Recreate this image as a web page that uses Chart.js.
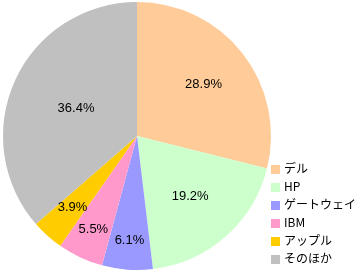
<!DOCTYPE html>
<html>
<head>
<meta charset="utf-8">
<script src="https://cdn.jsdelivr.net/npm/chart.js@4"></script>
<style>
  body { margin: 0; background: #fff; }
  #wrap { position: relative; width: 361px; height: 273px; }
  #legend { position: absolute; left: 271px; top: 159px; font: 12px "Noto Sans CJK JP", sans-serif; color: #000; }
  #legend div { height: 18px; line-height: 18px; white-space: nowrap; }
  #legend span { display: inline-block; width: 9px; height: 9px; margin-right: 4px; vertical-align: -1px; }
</style>
</head>
<body>
<div id="wrap">
  <canvas id="pie" width="361" height="273"></canvas>
  <div id="legend"></div>
</div>
<script>
// data
const labels = ['デル', 'HP', 'ゲートウェイ', 'IBM', 'アップル', 'そのほか'];
const shares = [28.9, 19.2, 6.1, 5.5, 3.9, 36.4];
const colors = ['#FFCC99', '#CCFFCC', '#9999FF', '#FF99CC', '#FFCC00', '#C0C0C0'];

// how far out each percentage sits (fraction of radius)
const labelRadius = [0.63, 0.6, 0.78, 0.77, 0.72, 0.5];

// draw percentage inside each slice
const sliceLabels = {
    id: 'sliceLabels',
    afterDatasetsDraw(chart) {
        const ctx = chart.ctx;
        const meta = chart.getDatasetMeta(0);
        ctx.save();
        ctx.font = '13px "Liberation Sans", Arial, sans-serif';
        ctx.fillStyle = '#000';
        ctx.textAlign = 'center';
        ctx.textBaseline = 'middle';
        meta.data.forEach((arc, i) => {
            const mid = (arc.startAngle + arc.endAngle) / 2;
            const r = arc.outerRadius * labelRadius[i];
            ctx.fillText(shares[i].toFixed(1) + '%', arc.x + Math.cos(mid) * r, arc.y + Math.sin(mid) * r);
        });
        ctx.restore();
    }
};

new Chart(document.getElementById('pie'), {
    type: 'pie',
    data: {
        labels: labels,
        datasets: [{
            data: shares,
            backgroundColor: colors,
            borderWidth: 0
        }]
    },
    options: {
        responsive: false,
        animation: false,
        layout: { padding: { left: 2, top: 2, right: 89, bottom: 3 } },
        plugins: {
            legend: { display: false },
            tooltip: { enabled: false }
        }
    },
    plugins: [sliceLabels]
});

// legend
const legend = document.getElementById('legend');
labels.forEach((name, i) => {
    const row = document.createElement('div');
    row.innerHTML = '<span style="background:' + colors[i] + '"></span>' + name;
    legend.appendChild(row);
});
</script>
</body>
</html>
